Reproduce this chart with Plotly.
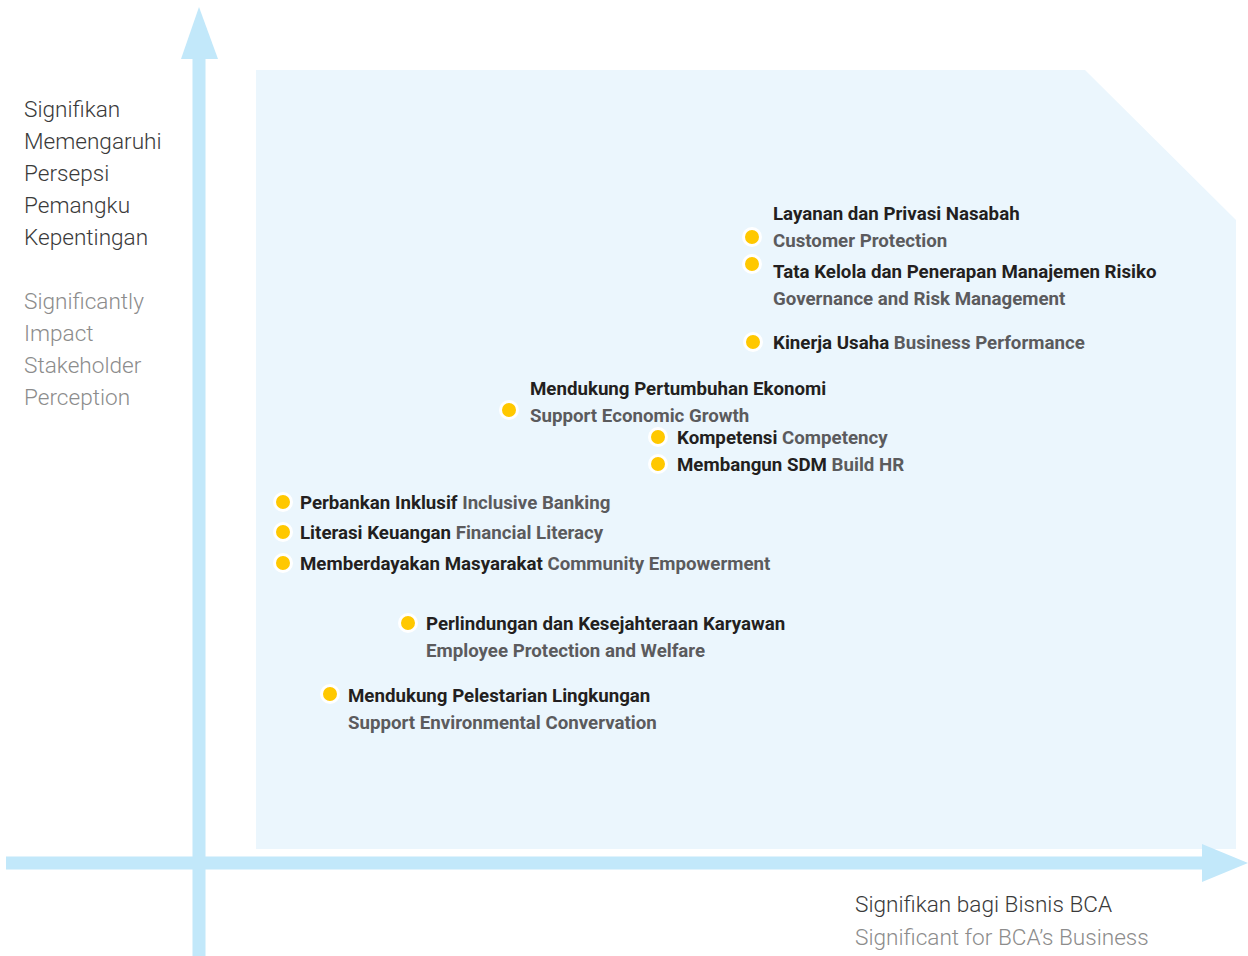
import plotly.graph_objects as go

# ---- data (scores measured from the axes origin) ----
topics_id = ["Layanan dan Privasi Nasabah", "Tata Kelola dan Penerapan Manajemen Risiko",
             "Kinerja Usaha", "Mendukung Pertumbuhan Ekonomi", "Kompetensi", "Membangun SDM",
             "Perbankan Inklusif", "Literasi Keuangan", "Memberdayakan Masyarakat",
             "Perlindungan dan Kesejahteraan Karyawan", "Mendukung Pelestarian Lingkungan"]
topics_en = ["Customer Protection", "Governance and Risk Management", "Business Performance",
             "Support Economic Growth", "Competency", "Build HR", "Inclusive Banking",
             "Financial Literacy", "Community Empowerment", "Employee Protection and Welfare",
             "Support Environmental Convervation"]
business_significance = [553, 553, 554, 310, 459, 459, 84, 84, 84, 209, 131]
stakeholder_impact = [626, 599, 521, 453, 426, 399, 361, 331, 300, 240, 169]

# ---- label layout (style only) ----
two_line = [True, True, False, True, False, False, False, False, False, True, True]
label_dy = [-23, 8, 1, -21, 1, 1, 1, 1, 1, 1, 2]   # px, first line vs dot (positive = down)
label_dx = [19, 19, 18, 19, 17, 17, 15, 15, 15, 16, 16]
LINE_GAP = 27

DARK = "#231f20"
GREY = "#5b5b5d"
ARROW = "#c2e8fa"
BG = "#ebf6fd"
YELLOW = "#ffc800"

XR = [-199, 1049]
YR = [-93, 863]

fig = go.Figure()
fig.add_trace(go.Scatter(
    x=business_significance, y=stakeholder_impact, mode="markers",
    marker=dict(size=17, color=YELLOW, line=dict(color="white", width=3)),
    hoverinfo="skip", showlegend=False))

shapes = []
# background panel with cut corner
shapes.append(dict(type="path", xref="x", yref="y", layer="below",
                   path="M 57 14 L 57 793 L 886 793 L 1037 643 L 1037 14 Z",
                   fillcolor=BG, line=dict(width=0)))
# vertical axis shaft + arrowhead
shapes.append(dict(type="path", xref="x", yref="y", layer="below",
                   path="M -6.5 -93 L -6.5 805 L 6.5 805 L 6.5 -93 Z",
                   fillcolor=ARROW, line=dict(width=0)))
shapes.append(dict(type="path", xref="x", yref="y", layer="below",
                   path="M -18 804 L 19 804 L 0 856 Z",
                   fillcolor=ARROW, line=dict(width=0)))
# horizontal axis shaft + arrowhead
shapes.append(dict(type="path", xref="x", yref="y", layer="below",
                   path="M -193 6.5 L 1004 6.5 L 1004 -6.5 L -193 -6.5 Z",
                   fillcolor=ARROW, line=dict(width=0)))
shapes.append(dict(type="path", xref="x", yref="y", layer="below",
                   path="M 1003 19 L 1003 -19 L 1049 0 Z",
                   fillcolor=ARROW, line=dict(width=0)))

ann = []
FS = 18.7
for i, (a, b) in enumerate(zip(topics_id, topics_en)):
    x = business_significance[i]
    y = stakeholder_impact[i]
    if two_line[i]:
        lines = [(f"<b>{a}</b>", DARK), (f"<b>{b}</b>", GREY)]
    else:
        lines = [(f"<b>{a}</b> <span style='color:{GREY}'><b>{b}</b></span>", DARK)]
    for k, (t, c) in enumerate(lines):
        ann.append(dict(x=x, y=y, xref="x", yref="y", text=t, showarrow=False,
                        xanchor="left", yanchor="middle", xshift=label_dx[i],
                        yshift=-(label_dy[i] + k * LINE_GAP),
                        font=dict(family="Roboto", size=FS, color=c)))

# axis titles
TS = 22.6
y_title_id = ["Signifikan", "Memengaruhi", "Persepsi", "Pemangku", "Kepentingan"]
y_title_en = ["Significantly", "Impact", "Stakeholder", "Perception"]
for j, t in enumerate(y_title_id):
    ann.append(dict(x=22 / 1248, y=1 - (109.5 + 32 * j) / 956, xref="paper", yref="paper",
                    text=t, showarrow=False, xanchor="left", yanchor="middle",
                    font=dict(family="Roboto", size=TS, color="#3a3a3a", weight=300)))
for j, t in enumerate(y_title_en):
    ann.append(dict(x=22 / 1248, y=1 - (301.5 + 32 * j) / 956, xref="paper", yref="paper",
                    text=t, showarrow=False, xanchor="left", yanchor="middle",
                    font=dict(family="Roboto", size=TS, color="#8c8c8c", weight=300)))
ann.append(dict(x=853 / 1248, y=1 - 904 / 956, xref="paper", yref="paper",
                text="Signifikan bagi Bisnis BCA", showarrow=False, xanchor="left", yanchor="middle",
                font=dict(family="Roboto", size=TS, color="#3a3a3a", weight=300)))
ann.append(dict(x=853 / 1248, y=1 - 937 / 956, xref="paper", yref="paper",
                text="Significant for BCA’s Business", showarrow=False, xanchor="left", yanchor="middle",
                font=dict(family="Roboto", size=TS, color="#8c8c8c", weight=300)))

fig.update_layout(
    width=1248, height=956, margin=dict(l=0, r=0, t=0, b=0),
    paper_bgcolor="white", plot_bgcolor="white",
    xaxis=dict(range=XR, visible=False, fixedrange=True),
    yaxis=dict(range=YR, visible=False, fixedrange=True),
    shapes=shapes, annotations=ann, showlegend=False)

fig.write_html("out.html", config={"displayModeBar": False},
               post_script="document.body.style.margin='0';document.body.style.overflow='hidden';")
